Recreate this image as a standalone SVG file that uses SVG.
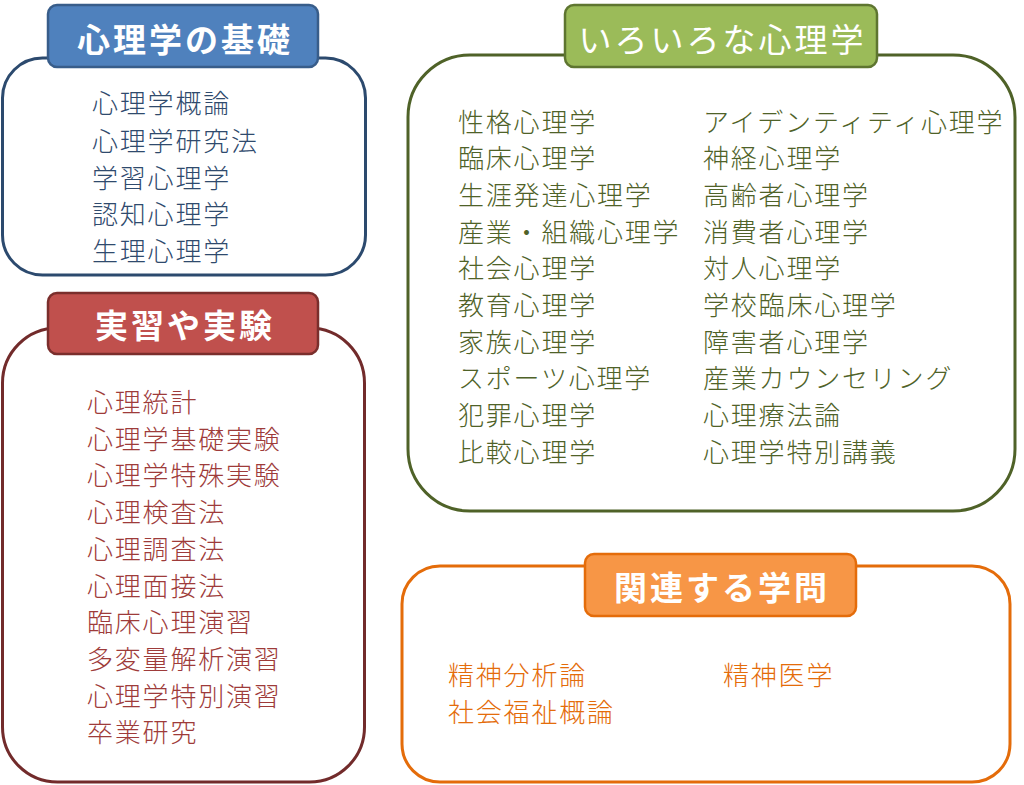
<svg xmlns="http://www.w3.org/2000/svg" width="1024" height="785" viewBox="0 0 1024 785">
<style>
.outer{fill:#ffffff;stroke-width:3}
.title{stroke-width:2.5}
.ttl{font-family:"Noto Sans CJK JP","Noto Sans",sans-serif;font-size:33px;letter-spacing:3px;fill:#ffffff;text-anchor:middle;font-weight:bold}
.item{font-family:"Noto Sans CJK JP","Noto Sans",sans-serif;font-size:26px;letter-spacing:1.8px;font-weight:300}
.blue{fill:#2F4A6D}
.red{fill:#9E3B3A}
.green{fill:#4F6228}
.orange{fill:#E46C0A}
</style>
<rect width="1024" height="785" fill="#ffffff"/>
<g id="kiso">
<rect class="outer" x="2.5" y="58" width="363" height="217" rx="40" stroke="#2C4A6E"/>
<rect class="title" x="48" y="5" width="270" height="62" rx="9" fill="#4F81BD" stroke="#385D8A"/>
<text class="ttl" x="185" y="52">心理学の基礎</text>
<g class="item blue">
<text x="92" y="113">心理学概論</text>
<text x="92" y="151">心理学研究法</text>
<text x="92" y="188">学習心理学</text>
<text x="92" y="224">認知心理学</text>
<text x="92" y="261">生理心理学</text>
</g>
</g>
<g id="jisshu">
<rect class="outer" x="2.5" y="328" width="362" height="454" rx="55" stroke="#722B2B"/>
<rect class="title" x="48" y="293" width="270" height="61" rx="9" fill="#C0504D" stroke="#7A2E2C"/>
<text class="ttl" x="185" y="338">実習や実験</text>
<g class="item red">
<text x="87" y="412">心理統計</text>
<text x="87" y="448.7">心理学基礎実験</text>
<text x="87" y="485.4">心理学特殊実験</text>
<text x="87" y="522.1">心理検査法</text>
<text x="87" y="558.8">心理調査法</text>
<text x="87" y="595.5">心理面接法</text>
<text x="87" y="632.2">臨床心理演習</text>
<text x="87" y="668.9">多変量解析演習</text>
<text x="87" y="705.6">心理学特別演習</text>
<text x="87" y="742.3">卒業研究</text>
</g>
</g>
<g id="iroiro">
<rect class="outer" x="408" y="55" width="607" height="456" rx="62" stroke="#4F6228"/>
<rect class="title" x="565" y="5" width="312" height="62" rx="9" fill="#9BBB59" stroke="#5E7530"/>
<text class="ttl" x="722.5" y="52" style="font-weight:normal">いろいろな心理学</text>
<g class="item green">
<text x="458" y="131.5">性格心理学</text>
<text x="458" y="168.2">臨床心理学</text>
<text x="458" y="204.9">生涯発達心理学</text>
<text x="458" y="241.6">産業・組織心理学</text>
<text x="458" y="278.3">社会心理学</text>
<text x="458" y="315">教育心理学</text>
<text x="458" y="351.7">家族心理学</text>
<text x="458" y="388.4">スポーツ心理学</text>
<text x="458" y="425.1">犯罪心理学</text>
<text x="458" y="461.8">比較心理学</text>
<text x="703" y="131.5">アイデンティティ心理学</text>
<text x="703" y="168.2">神経心理学</text>
<text x="703" y="204.9">高齢者心理学</text>
<text x="703" y="241.6">消費者心理学</text>
<text x="703" y="278.3">対人心理学</text>
<text x="703" y="315">学校臨床心理学</text>
<text x="703" y="351.7">障害者心理学</text>
<text x="703" y="388.4">産業カウンセリング</text>
<text x="703" y="425.1">心理療法論</text>
<text x="703" y="461.8">心理学特別講義</text>
</g>
</g>
<g id="kanren">
<rect class="outer" x="402" y="566" width="608" height="216" rx="38" stroke="#E46C0A"/>
<rect class="title" x="585" y="554" width="271" height="62" rx="9" fill="#F79646" stroke="#E46C0A"/>
<text class="ttl" x="722" y="600">関連する学問</text>
<g class="item orange">
<text x="448" y="684.5">精神分析論</text>
<text x="448" y="721.5">社会福祉概論</text>
<text x="723" y="684.5">精神医学</text>
</g>
</g>
<g id="connectors"></g>
</svg>
